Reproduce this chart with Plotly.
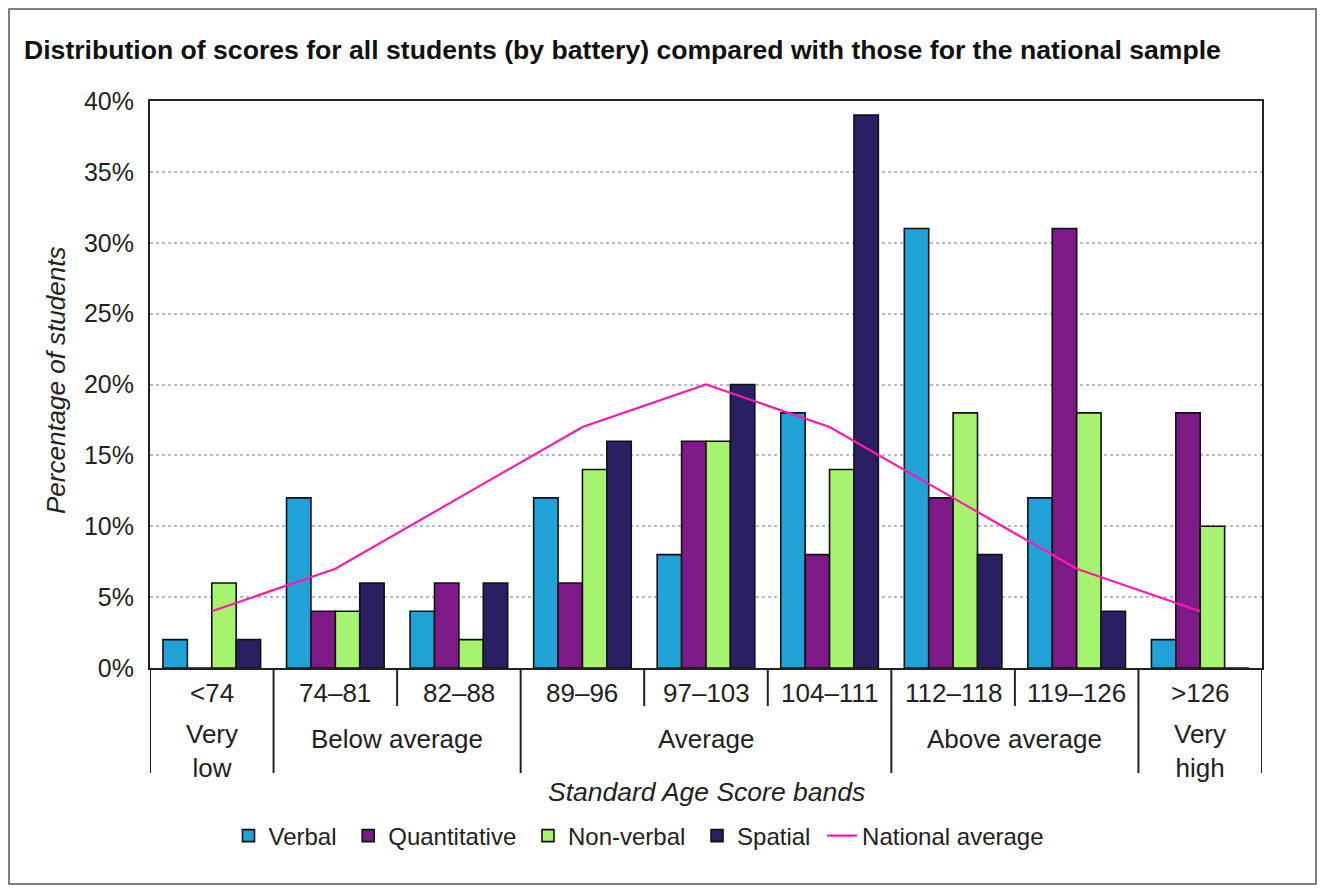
import plotly.graph_objects as go

bands = ["<74", "74–81", "82–88", "89–96", "97–103", "104–111", "112–118", "119–126", ">126"]
verbal = [2, 12, 4, 12, 8, 18, 31, 12, 2]
quantitative = [0, 4, 6, 6, 16, 8, 12, 31, 18]
nonverbal = [6, 4, 2, 14, 16, 14, 18, 18, 10]
spatial = [2, 6, 6, 16, 20, 39, 8, 4, 0]
national = [4, 7, 12, 17, 20, 17, 12, 7, 4]
group_labels = ["Very<br>low", "Below average", "Average", "Above average", "Very<br>high"]
group_spans = [(0, 0), (1, 2), (3, 5), (6, 7), (8, 8)]
ytick_vals = [0, 5, 10, 15, 20, 25, 30, 35, 40]
ytick_text = [f"{v}%" for v in ytick_vals]

OFF = 8  # page body margin
W, H = 1325 - 2 * OFF, 893 - 2 * OFF
# plot area in window pixels
L, R, T, B = 150, 1262, 101, 668
FONT = "Liberation Sans, Arial, sans-serif"
NB = "\u00a0"

def py(p):  # window pixel y -> paper
    return (B - p) / (B - T)

def px(p):  # window pixel x -> paper
    return (p - L) / (R - L)

xs = list(range(len(bands)))
fig = go.Figure()
series = [("Verbal", verbal, "#21A3D8"), ("Quantitative", quantitative, "#7E1A88"),
          ("Non-verbal", nonverbal, "#A6F36F"), ("Spatial", spatial, "#2A1F63")]
for name, vals, col in series:
    fig.add_trace(go.Bar(x=xs, y=vals, name=name + NB, marker=dict(color=col, line=dict(color="#111", width=1.6))))
fig.add_trace(go.Scatter(x=xs, y=national, name="National average", mode="lines",
                         line=dict(color="#FF1AAE", width=2.2)))

shapes = []
long_bounds = [-0.5, 0.5, 2.5, 5.5, 7.5, 8.5]
short_bounds = [1.5, 3.5, 4.5, 6.5]
for b in long_bounds:
    shapes.append(dict(type="line", xref="x", yref="paper", x0=b, x1=b, y0=0, y1=py(773),
                       line=dict(color="#222", width=2)))
for b in short_bounds:
    shapes.append(dict(type="line", xref="x", yref="paper", x0=b, x1=b, y0=0, y1=py(706),
                       line=dict(color="#222", width=2)))
shapes.append(dict(type="rect", xref="paper", yref="paper", x0=px(OFF + 1), x1=px(OFF + W - 1),
                   y0=py(OFF + H - 1), y1=py(OFF + 1), line=dict(color="#555", width=1.5), layer="below"))

ann = []
for i, b in enumerate(bands):
    ann.append(dict(x=i, y=py(693), xref="x", yref="paper", text=b, showarrow=False,
                    font=dict(size=26, color="#222", family=FONT), yanchor="middle"))
for label, (a, c) in zip(group_labels, group_spans):
    two = "<br>" in label
    ann.append(dict(x=(a + c) / 2, y=py(751 if two else 739), xref="x", yref="paper", text=label,
                    showarrow=False, font=dict(size=26, color="#222", family=FONT), yanchor="middle"))
ann.append(dict(x=0.5, y=py(792), xref="paper", yref="paper", text="<i>Standard Age Score bands</i>",
                showarrow=False, font=dict(size=26.5, color="#222", family=FONT), yanchor="middle"))
ann.append(dict(x=px(56), y=py(381), xref="paper", yref="paper", text="<i>Percentage of students</i>",
                showarrow=False, textangle=-90, xanchor="center", yanchor="middle",
                font=dict(size=26, color="#222", family=FONT)))

fig.update_layout(
    width=W, height=H,
    margin=dict(l=L - OFF, r=OFF + W - R, t=T - OFF, b=OFF + H - B),
    paper_bgcolor="white", plot_bgcolor="white",
    font=dict(family=FONT, color="#222"),
    title=dict(text="<b>Distribution of scores for all students (by battery) compared with those for the national sample</b>",
               x=(24 - OFF) / W, xref="container", xanchor="left", y=1 - (50 - OFF) / H, yref="container",
               yanchor="middle", font=dict(size=26.6, color="#111", family=FONT)),
    barmode="group", bargap=0.21, bargroupgap=0,
    xaxis=dict(range=[-0.5, 8.5], showticklabels=False, showgrid=False, zeroline=False,
               showline=True, linecolor="#222", linewidth=2, mirror=True, ticks=""),
    yaxis=dict(range=[0, 40], tickvals=ytick_vals, ticktext=ytick_text, showgrid=True,
               gridcolor="#BBBBBB", griddash="dot", gridwidth=1.5, zeroline=False,
               showline=True, linecolor="#222", linewidth=2, mirror=True, ticks="",
               ticklabelstandoff=9, tickfont=dict(size=25, color="#222", family=FONT)),
    legend=dict(orientation="h", x=px(639), xanchor="center", y=py(836), yanchor="middle",
                font=dict(size=24, color="#222", family=FONT), itemwidth=30, tracegroupgap=0),
    shapes=shapes, annotations=ann,
)
fig.write_html("out.html")
